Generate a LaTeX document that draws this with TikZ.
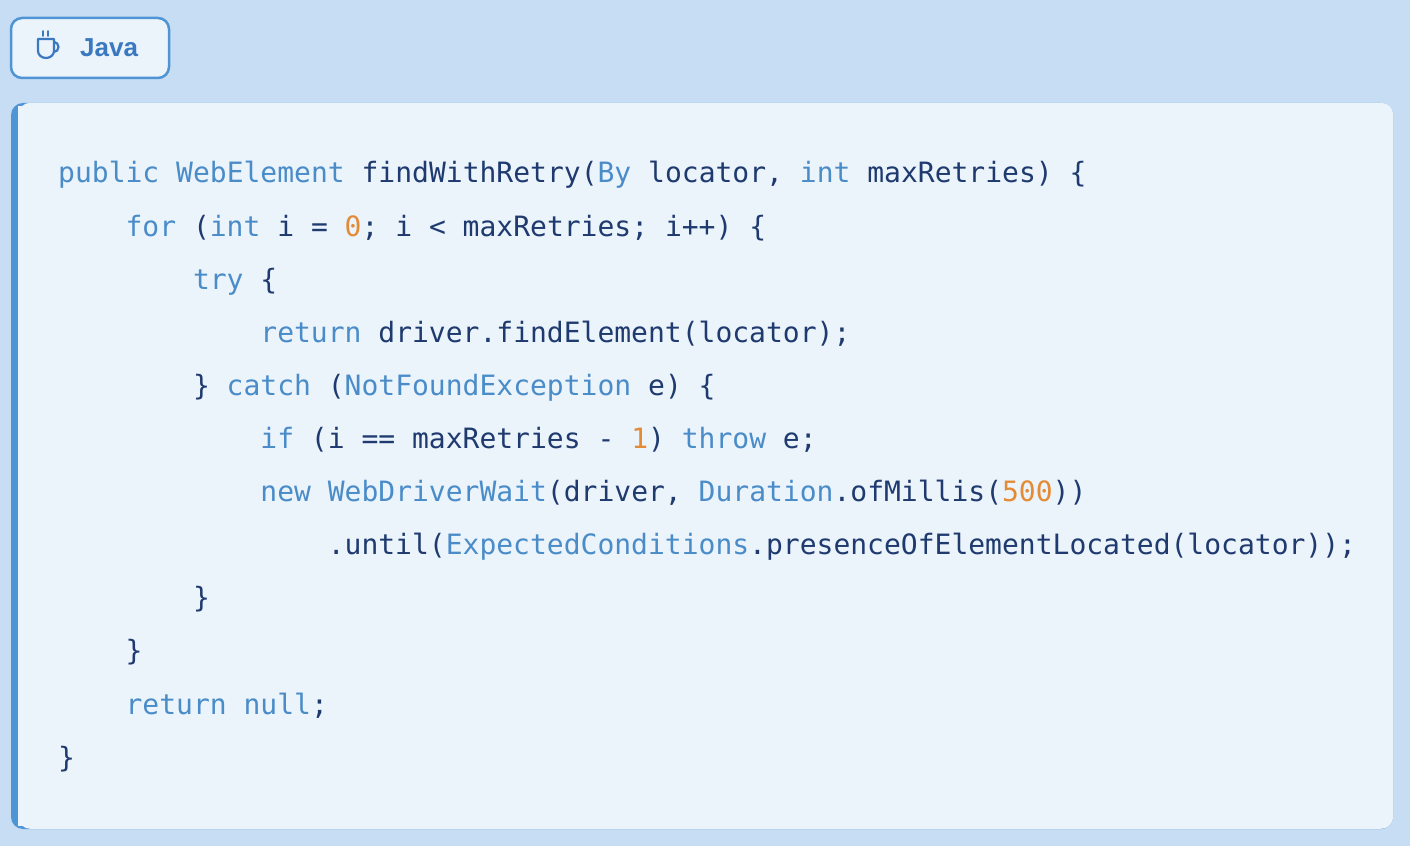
\documentclass[tikz,border=0pt]{standalone}
\usepackage{fontspec}
\setmainfont{Liberation Sans}
\newfontfamily\codefont{DejaVu Sans Mono}
\definecolor{bgc}{HTML}{C6DDF3}
\definecolor{panelc}{HTML}{EBF3FB}
\definecolor{barc}{HTML}{4F94D4}
\definecolor{kwc}{HTML}{4A8CC8}
\definecolor{idc}{HTML}{1E3A6E}
\definecolor{numc}{HTML}{E38B35}
\definecolor{badgec}{HTML}{3A78C0}
\newcommand\K[1]{\textcolor{kwc}{#1}}
\newcommand\NN[1]{\textcolor{numc}{#1}}
\begin{document}
\begin{tikzpicture}[x=1pt,y=1pt,
  codeline/.style={anchor=base west,inner sep=0pt,font=\codefont\fontsize{28}{30}\selectfont,text=idc}]
\fill[bgc] (0,0) rectangle (1410,846);
\useasboundingbox (0,0) rectangle (1410,846);
% badge
\node[draw=barc,line width=2.5pt,fill=panelc,rounded corners=11pt,minimum width=158pt,minimum height=60pt] (badge) at (90,798) {};
\node[font=\bfseries\fontsize{26}{28}\selectfont,text=badgec,anchor=west,inner sep=0pt] (java) at (80,798) {Java};
\draw[badgec,line width=2.2pt,line cap=round,line join=round] (38,807) -- (38,795) arc(180:360:8 and 7) -- (54,807) -- cycle;
\draw[badgec,line width=2.2pt] (54,804) arc(90:-90:4.5 and 5);
\draw[badgec,line width=1.6pt,line cap=round] (43,815) -- (43,810) (48,815) -- (48,810);
% panel
\fill[barc] (11,17) [rounded corners=12pt] rectangle (1393,743);
\node[fill=panelc,rounded corners=12pt,minimum width=1375pt,minimum height=726pt,inner sep=0pt,anchor=south west] (panel) at (18,17) {};
\fill[panelc] (18,20) rectangle (30,740);
% code
\def\L#1#2#3{\node[codeline] (l#1) at (58+67.4*#2, 846-183-53.1*#1) {#3};}
\L{0}{0}{\K{public} \K{WebElement} findWithRetry(\K{By} locator, \K{int} maxRetries) \{}
\L{1}{1}{\K{for} (\K{int} i = \NN{0}; i < maxRetries; i++) \{}
\L{2}{2}{\K{try} \{}
\L{3}{3}{\K{return} driver.findElement(locator);}
\L{4}{2}{\} \K{catch} (\K{NotFoundException} e) \{}
\L{5}{3}{\K{if} (i == maxRetries - \NN{1}) \K{throw} e;}
\L{6}{3}{\K{new} \K{WebDriverWait}(driver, \K{Duration}.ofMillis(\NN{500}))}
\L{7}{4}{.until(\K{ExpectedConditions}.presenceOfElementLocated(locator));}
\L{8}{2}{\}}
\L{9}{1}{\}}
\L{10}{1}{\K{return} \K{null};}
\L{11}{0}{\}}
\end{tikzpicture}
\end{document}
